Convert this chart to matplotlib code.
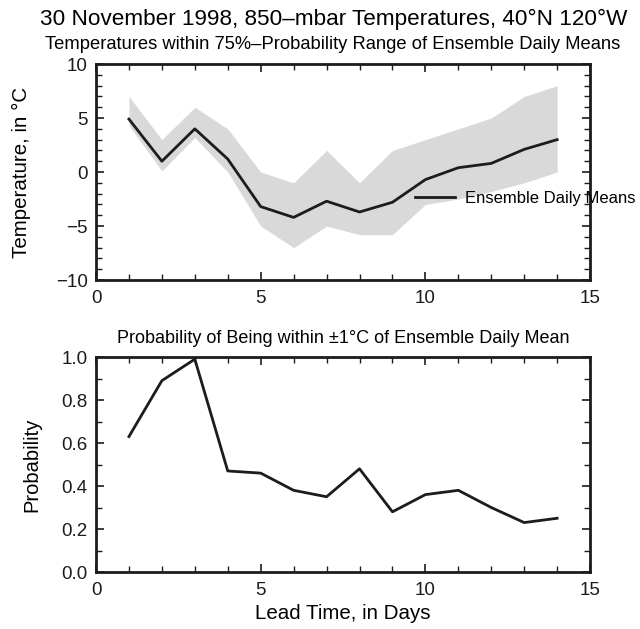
import matplotlib
matplotlib.use("Agg")
import matplotlib.pyplot as plt
from matplotlib.ticker import MultipleLocator


# ----------------------------------------------------------
# Ensemble forecast data, 850-mbar temperature at 40N 120W
# ----------------------------------------------------------

lead_days = [1, 2, 3, 4, 5, 6, 7, 8, 9, 10, 11, 12, 13, 14]

# Ensemble daily mean temperature [C]
ens_mean = [4.9, 1.0, 4.0, 1.2, -3.2, -4.2, -2.7, -3.7, -2.8, -0.7, 0.4, 0.8, 2.1, 3.0]

# 75%-probability range limits [C]
range_upper = [7.0, 3.0, 6.0, 4.0, 0.0, -1.0, 2.0, -1.0, 2.0, 3.0, 4.0, 5.0, 7.0, 8.0]
range_lower = [4.3, 0.1, 3.2, 0.0, -5.0, -7.0, -5.0, -5.8, -5.8, -3.0, -2.5, -1.8, -1.0, 0.0]

# Probability of being within +/-1 C of the ensemble daily mean
prob_within = [0.63, 0.89, 0.99, 0.47, 0.46, 0.38, 0.35, 0.48, 0.28, 0.36, 0.38, 0.30, 0.23, 0.25]


plt.rcParams["font.family"] = ["Liberation Sans", "DejaVu Sans"]
plt.rcParams["font.size"] = 12

line_col = "#1c1c1c"
band_col = "#d9d9d9"

fig = plt.figure(figsize=(6.40, 6.29), dpi=100)

ax_t = fig.add_axes([0.150, 0.5548, 0.772, 0.3434])
ax_b = fig.add_axes([0.150, 0.0906, 0.772, 0.3418])


def style_axes(ax, y_major, y_minor):
    ax.set_xlim(0, 15)
    ax.xaxis.set_major_locator(MultipleLocator(5))
    ax.xaxis.set_minor_locator(MultipleLocator(1))
    ax.yaxis.set_major_locator(MultipleLocator(y_major))
    ax.yaxis.set_minor_locator(MultipleLocator(y_minor))
    ax.tick_params(which="both", direction="in", top=True, right=True,
                   colors=line_col, labelsize=13.5)
    ax.tick_params(axis="x", pad=7)
    ax.tick_params(axis="y", pad=6)
    ax.tick_params(which="major", length=6, width=1.2)
    ax.tick_params(which="minor", length=4, width=1.0)
    for sp in ax.spines.values():
        sp.set_linewidth(2.0)
        sp.set_color(line_col)


# ----------------------------------------------------------
# Top panel: mean with 75% probability band
# ----------------------------------------------------------

ax_t.fill_between(lead_days, range_lower, range_upper,
                  color=band_col, linewidth=0)
ax_t.plot(lead_days, ens_mean, color=line_col, linewidth=2.0,
          label="Ensemble Daily Means")

ax_t.set_ylim(-10, 10)
style_axes(ax_t, 5, 1)
ax_t.yaxis.set_major_formatter(
    plt.FuncFormatter(lambda v, p: f"{v:.0f}".replace("-", "\u2212")))
ax_t.set_ylabel("Temperature, in \u00b0C", fontsize=14.8)
ax_t.yaxis.set_label_coords(-0.132, 0.5)

ax_t.legend(loc="center left", bbox_to_anchor=(0.646, 0.378),
            frameon=False, borderpad=0, borderaxespad=0,
            handlelength=2.4, handletextpad=0.6, fontsize=12)

# ----------------------------------------------------------
# Bottom panel: probability
# ----------------------------------------------------------

ax_b.plot(lead_days, prob_within, color=line_col, linewidth=2.0,
          clip_on=False)
ax_b.set_ylim(0, 1)
style_axes(ax_b, 0.2, 0.1)
ax_b.yaxis.set_major_formatter(plt.FuncFormatter(lambda v, p: f"{v:.1f}"))
ax_b.set_ylabel("Probability", fontsize=14.5)
ax_b.yaxis.set_label_coords(-0.111, 0.5)
ax_b.set_xlabel("Lead Time, in Days", fontsize=14.8, labelpad=4)
ax_b.set_title("Probability of Being within \u00b11\u00b0C of Ensemble Daily Mean",
               fontsize=13.0, pad=10)

# ----------------------------------------------------------
# Titles
# ----------------------------------------------------------

fig.text(0.522, 0.969,
         "30 November 1998, 850\u2013mbar Temperatures, 40\u00b0N 120\u00b0W",
         ha="center", va="center", fontsize=16.2)
fig.text(0.520, 0.929,
         "Temperatures within 75%\u2013Probability Range of Ensemble Daily Means",
         ha="center", va="center", fontsize=13.2)

fig.savefig("out.png", dpi=100)
